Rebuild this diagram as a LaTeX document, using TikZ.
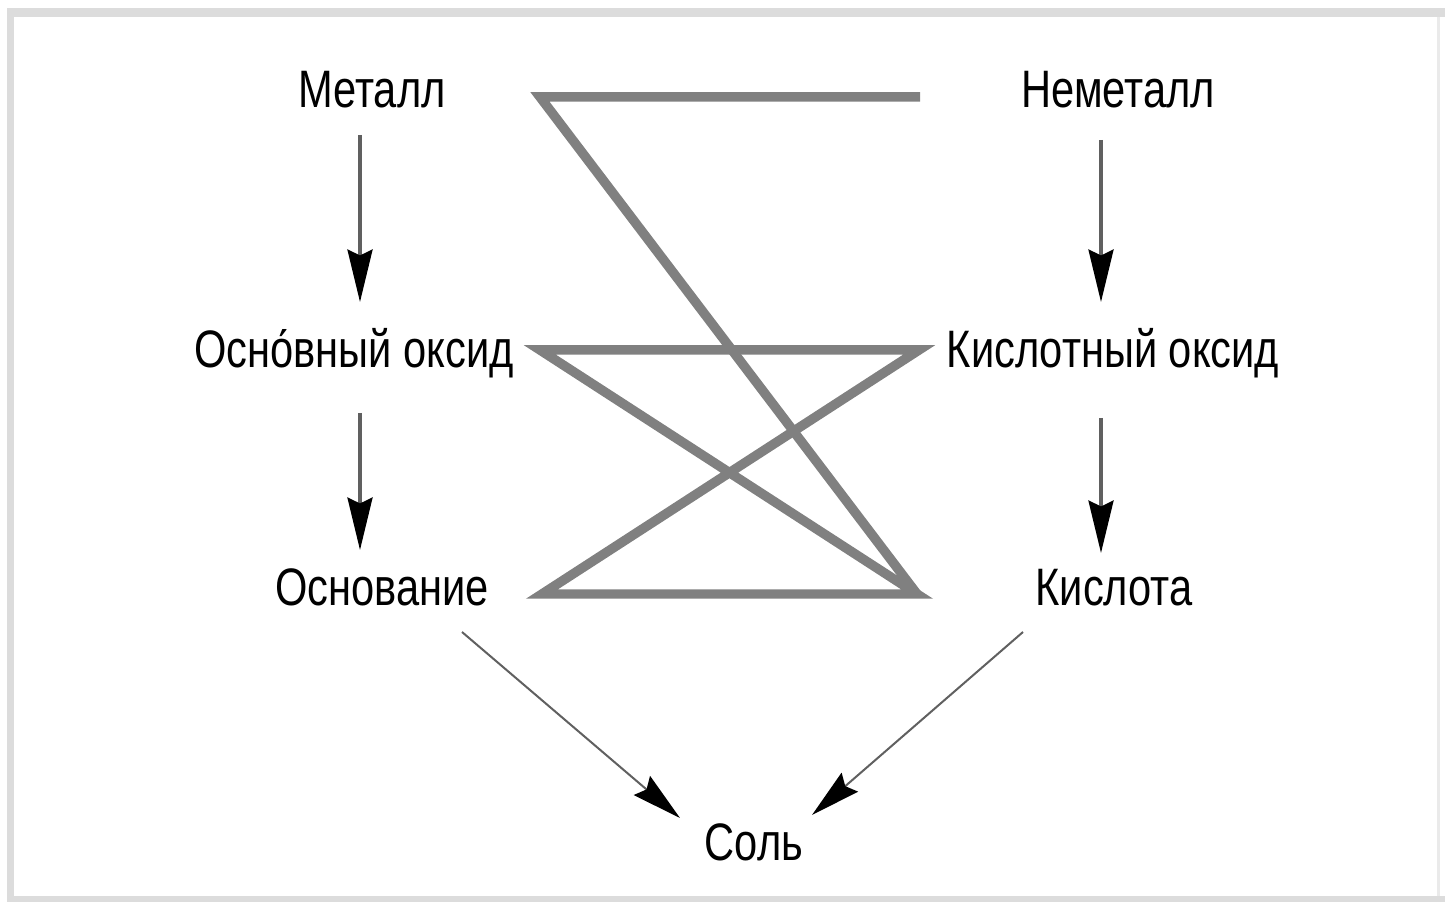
\documentclass[tikz,border=0pt]{standalone}
\usepackage{fontspec}
\setmainfont{Liberation Sans}[FakeStretch=0.79]
\usepackage{tikz}
\usetikzlibrary{arrows.meta,calc}
\definecolor{FrameGray}{HTML}{DCDCDC}
\definecolor{LinkGray}{HTML}{808080}
\definecolor{ShaftGray}{HTML}{606060}

\begin{document}
\begin{tikzpicture}[x=0.02cm,y=-0.02cm,
  lbl/.style={anchor=base,inner sep=0pt,font=\fontsize{30}{36}\selectfont},
  arr/.style={line width=0.07cm,ShaftGray,{-{Stealth[length=1.05cm,width=0.5cm,inset=0.12cm,black]}}},
  thinarr/.style={line width=0.04cm,ShaftGray,{-{Stealth[length=1.0cm,width=0.5cm,inset=0.12cm,black]}}},
  link/.style={line width=0.19cm,LinkGray}]
  \useasboundingbox (0,0) rectangle (1445,902);
  % frame
  \fill[FrameGray] (7,8) rectangle (1445,17);
  \fill[FrameGray] (7,8) rectangle (14,902);
  \fill[FrameGray] (7,896) rectangle (1445,902);
  \fill[FrameGray!60] (1437,17) rectangle (1440,896);
  % labels
  \node[lbl] (metal) at (372,108) {Металл};
  \node[lbl] (nonmetal) at (1118,108) {Неметалл};
  \node[lbl] (baseox) at (354,368) {Осно́вный оксид};
  \node[lbl] (acidox) at (1113,368) {Кислотный оксид};
  \node[lbl] (base) at (382,605) {Основание};
  \node[lbl] (acid) at (1114,605) {Кислота};
  \node[lbl] (salt) at (754,860) {Соль};
  % reactions between the two columns
  \coordinate (A) at (540,97);
  \coordinate (B) at (920,97);
  \coordinate (C) at (540,350);
  \coordinate (D) at (919,350);
  \coordinate (E) at (542,594);
  \coordinate (F) at (917,594);
  \draw[link] (B) -- (A) -- (F);
  \draw[link] (C) -- (D) -- (E) -- (F) -- cycle;
  % genetic rows
  \draw[arr] ($(metal.base)+(-12,27)$) -- ($(baseox.base)+(6,-66)$);
  \draw[arr] ($(baseox.base)+(6,45)$) -- ($(base.base)+(-22,-55)$);
  \draw[arr] ($(nonmetal.base)+(-17,32)$) -- ($(acidox.base)+(-12,-66)$);
  \draw[arr] ($(acidox.base)+(-12,50)$) -- ($(acid.base)+(-13,-52)$);
  \draw[thinarr] ($(base.base)+(80,27)$) -- ($(salt.base)+(-74,-42)$);
  \draw[thinarr] ($(acid.base)+(-91,27)$) -- ($(salt.base)+(58,-45)$);
\end{tikzpicture}
\end{document}
